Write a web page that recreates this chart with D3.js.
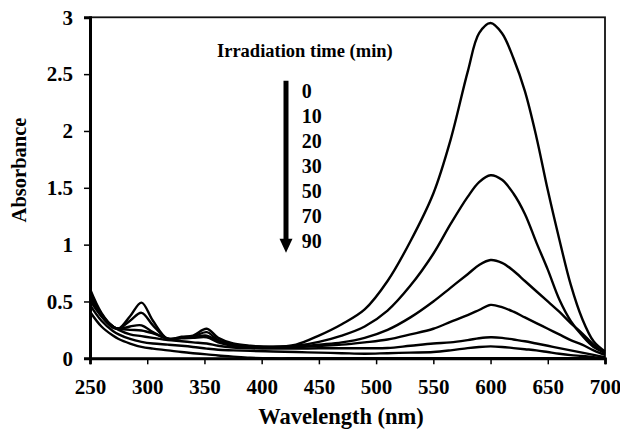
<!DOCTYPE html>
<html>
<head>
<meta charset="utf-8">
<script src="https://cdn.jsdelivr.net/npm/d3@7"></script>
<style>
  body { margin: 0; background: #fff; }
  text { font-family: "Liberation Serif", "Times New Roman", serif; font-weight: bold; fill: #000; }
</style>
</head>
<body>
<div id="chart"></div>
<script>
// wavelengths (nm) shared by every spectrum
var wavelength = [250, 260, 270, 275, 285, 295, 305, 318, 330, 340, 352, 362, 375, 390, 410, 430, 450, 470, 490, 510,
                  530, 550, 565, 580, 590, 600, 610, 620, 630, 640, 650, 660, 670, 680, 690, 700];

// absorbance for each irradiation time
var abs0  = [0.61, 0.40, 0.28, 0.26, 0.37, 0.49, 0.33, 0.17, 0.19, 0.20, 0.26, 0.18, 0.13, 0.11, 0.10, 0.12, 0.20, 0.30, 0.43, 0.68,
             1.03, 1.45, 1.92, 2.52, 2.86, 2.95, 2.86, 2.64, 2.35, 1.95, 1.48, 1.05, 0.65, 0.35, 0.15, 0.06];
var abs10 = [0.59, 0.39, 0.28, 0.26, 0.33, 0.40, 0.29, 0.17, 0.18, 0.19, 0.23, 0.16, 0.12, 0.105, 0.10, 0.11, 0.145, 0.20, 0.28, 0.42,
             0.64, 0.92, 1.18, 1.42, 1.55, 1.61, 1.57, 1.45, 1.27, 1.02, 0.78, 0.52, 0.33, 0.20, 0.10, 0.05];
var abs20 = [0.57, 0.38, 0.28, 0.26, 0.28, 0.29, 0.23, 0.17, 0.18, 0.185, 0.20, 0.15, 0.115, 0.10, 0.10, 0.10, 0.12, 0.14, 0.18, 0.25,
             0.36, 0.50, 0.62, 0.74, 0.82, 0.865, 0.84, 0.77, 0.68, 0.59, 0.50, 0.41, 0.31, 0.22, 0.12, 0.04];
var abs30 = [0.55, 0.37, 0.27, 0.26, 0.25, 0.245, 0.22, 0.175, 0.175, 0.18, 0.185, 0.14, 0.11, 0.10, 0.10, 0.10, 0.11, 0.12, 0.14, 0.165,
             0.21, 0.26, 0.32, 0.38, 0.425, 0.47, 0.45, 0.41, 0.36, 0.31, 0.26, 0.21, 0.16, 0.12, 0.07, 0.03];
var abs50 = [0.51, 0.37, 0.28, 0.25, 0.21, 0.195, 0.18, 0.16, 0.15, 0.14, 0.13, 0.11, 0.095, 0.088, 0.085, 0.085, 0.088, 0.088, 0.088, 0.09,
             0.11, 0.13, 0.14, 0.16, 0.176, 0.185, 0.18, 0.165, 0.15, 0.13, 0.11, 0.09, 0.07, 0.05, 0.03, 0.01];
var abs70 = [0.47, 0.33, 0.24, 0.21, 0.17, 0.145, 0.13, 0.12, 0.11, 0.10, 0.085, 0.075, 0.07, 0.065, 0.06, 0.055, 0.05, 0.045, 0.04, 0.045,
             0.05, 0.055, 0.07, 0.09, 0.10, 0.105, 0.10, 0.09, 0.08, 0.07, 0.055, 0.04, 0.028, 0.02, 0.01, 0.0];
var abs90 = [0.41, 0.28, 0.20, 0.17, 0.13, 0.10, 0.085, 0.07, 0.055, 0.045, 0.035, 0.025, 0.015, 0.005, 0, 0, 0, 0, 0, 0,
             0, 0, 0, 0, 0, 0, 0, 0, 0, 0, 0, 0, 0, 0, 0, 0];

var spectra = [abs0, abs10, abs20, abs30, abs50, abs70, abs90];
var times = ["0", "10", "20", "30", "50", "70", "90"];
var xTicks = [250, 300, 350, 400, 450, 500, 550, 600, 650, 700];
var yTicks = [0, 0.5, 1, 1.5, 2, 2.5, 3];

var width = 620, height = 433;
var plotLeft = 90, plotRight = 605, plotTop = 17.3, plotBottom = 358.3;

var svg = d3.select("#chart").append("svg")
  .attr("width", width)
  .attr("height", height);

var x = d3.scaleLinear().domain([250, 700]).range([plotLeft, plotRight]);
var y = d3.scaleLinear().domain([0, 3]).range([plotBottom, plotTop]);

// plot area frame
svg.append("rect")
  .attr("x", plotLeft).attr("y", plotTop)
  .attr("width", plotRight - plotLeft).attr("height", plotBottom - plotTop)
  .attr("fill", "none")
  .attr("stroke", "#111")
  .attr("stroke-width", 1.8);

// spectra
var line = d3.line()
  .x(function(d, i) { return x(wavelength[i]); })
  .y(function(d) { return y(d); })
  .curve(d3.curveCatmullRom.alpha(0.5));

svg.selectAll(".spectrum")
  .data(spectra)
  .enter().append("path")
  .attr("class", "spectrum")
  .attr("d", line)
  .attr("fill", "none")
  .attr("stroke", "#000")
  .attr("stroke-width", 2.4)
  .attr("stroke-linejoin", "round");

// axes
var xAxis = svg.append("g")
  .attr("transform", "translate(0," + plotBottom + ")")
  .call(d3.axisBottom(x).tickValues(xTicks).tickSize(6).tickPadding(15).tickFormat(d3.format("d")));
var yAxis = svg.append("g")
  .attr("transform", "translate(" + plotLeft + ",0)")
  .call(d3.axisLeft(y).tickValues(yTicks).tickSize(6).tickPadding(11).tickFormat(function(d) { return d; }));

xAxis.select(".domain").attr("stroke", "#000").attr("stroke-width", 2.8);
yAxis.select(".domain").attr("stroke", "#000").attr("stroke-width", 3);
svg.selectAll(".tick line").attr("stroke", "#000").attr("stroke-width", 1.5);
svg.selectAll(".tick text")
  .style("font-size", "21px")
  .style("font-family", "'Liberation Serif', 'Times New Roman', serif")
  .style("font-weight", "bold");

// axis titles
svg.append("text")
  .attr("x", 341)
  .attr("y", 424)
  .attr("text-anchor", "middle")
  .style("font-size", "22.5px")
  .text("Wavelength (nm)");

svg.append("text")
  .attr("transform", "translate(26,170) rotate(-90)")
  .attr("text-anchor", "middle")
  .style("font-size", "20.5px")
  .text("Absorbance");

// legend
svg.append("text")
  .attr("x", 217)
  .attr("y", 56.7)
  .style("font-size", "18.5px")
  .text("Irradiation time (min)");

var arrowX = 286, arrowTop = 80.7, arrowTip = 252.7;
svg.append("line")
  .attr("x1", arrowX).attr("x2", arrowX)
  .attr("y1", arrowTop).attr("y2", arrowTip - 12)
  .attr("stroke", "#000")
  .attr("stroke-width", 5);
svg.append("path")
  .attr("d", "M" + (arrowX - 6.5) + "," + (arrowTip - 14) + " L" + (arrowX + 6.5) + "," + (arrowTip - 14) + " L" + arrowX + "," + arrowTip + " Z")
  .attr("fill", "#000");

svg.selectAll(".timelabel")
  .data(times)
  .enter().append("text")
  .attr("class", "timelabel")
  .attr("x", 301.7)
  .attr("y", function(d, i) { return 97.7 + i * 25; })
  .style("font-size", "20px")
  .text(function(d) { return d; });
</script>
</body>
</html>
